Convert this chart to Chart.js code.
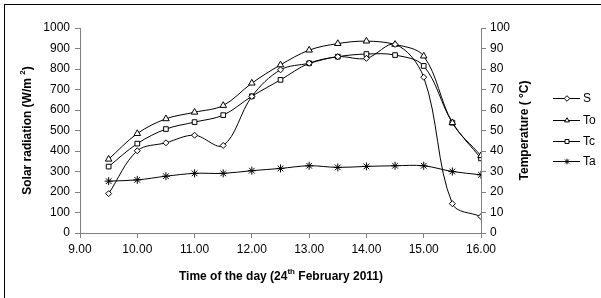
<!DOCTYPE html>
<html>
<head>
<meta charset="utf-8">
<script src="https://cdn.jsdelivr.net/npm/chart.js@4"></script>
<style>
  html, body { margin: 0; padding: 0; background: #fff; overflow: hidden; }
  #wrap { width: 601px; height: 298px; }
</style>
</head>
<body>
<div id="wrap"><canvas id="chart" width="601" height="298"></canvas></div>
<script>
// ── Data ──────────────────────────────────────────────────────────────────────
const times = [9.5, 10, 10.5, 11, 11.5, 12, 12.5, 13, 13.5, 14, 14.5, 15, 15.5, 16];
const solarS = [192, 401, 440, 477, 427, 666, 796, 828, 860, 852, 920, 760, 143, 80];
const tempTo = [36, 48.5, 55.7, 58.9, 62.2, 73.1, 82, 89.2, 92.4, 93.6, 92, 86.3, 53.8, 37.7];
const tempTc = [32.4, 43.6, 50.7, 54.1, 57.5, 66.7, 74.7, 82.8, 86, 87.3, 86.8, 81.5, 53.8, 36.4];
const tempTa = [25.3, 25.9, 27.7, 29.1, 29.1, 30.4, 31.5, 32.8, 32, 32.5, 32.8, 32.8, 30, 28.4];
const xTicks = [9, 10, 11, 12, 13, 14, 15, 16];

const FONT = 'Liberation Sans, Arial, sans-serif';
const axisGrey = '#808080';

const pts = (vals) => vals.map((v, i) => ({ x: times[i], y: v }));

function series(label, vals, axis, style, radius) {
    return {
        label,
        data: pts(vals),
        yAxisID: axis,
        borderColor: '#000',
        borderWidth: 1,
        backgroundColor: '#fff',
        pointStyle: style,
        pointRadius: radius,
        pointBorderColor: '#000',
        pointBackgroundColor: '#fff',
        pointBorderWidth: 1,
        tension: 0.35,
        fill: false,
    };
}

// ── Titles, frame and legend drawn by hand ────────────────────────────────────
function drawParts(ctx, parts, x, y) {
    // parts drawn left to right, centred on x; superscripts raised
    let total = 0;
    parts.forEach((p) => {
        ctx.font = `bold ${p.sup ? 8 : 12}px ${FONT}`;
        total += ctx.measureText(p.t).width;
    });
    let cx = x - total / 2;
    parts.forEach((p) => {
        ctx.font = `bold ${p.sup ? 8 : 12}px ${FONT}`;
        ctx.fillText(p.t, cx, p.sup ? y - 5 : y);
        cx += ctx.measureText(p.t).width;
    });
}

const decorPlugin = {
    id: 'decor',
    beforeDraw(chart) {
        const { ctx } = chart;
        ctx.save();
        ctx.fillStyle = '#fff';
        ctx.fillRect(0, 0, chart.width, chart.height);
        ctx.strokeStyle = '#000';
        ctx.lineWidth = 1;
        ctx.strokeRect(4.5, 4.5, 700, 400);
        ctx.restore();
    },
    afterDraw(chart) {
        const { ctx, chartArea } = chart;
        const midY = (chartArea.top + chartArea.bottom) / 2;

        ctx.save();
        ctx.fillStyle = '#000';
        ctx.textBaseline = 'middle';
        ctx.textAlign = 'left';

        ctx.save();
        ctx.translate(28, midY);
        ctx.rotate(-Math.PI / 2);
        drawParts(ctx, [{ t: 'Solar radiation (W/m ' }, { t: '2', sup: true }, { t: ')' }], 0, 0);
        ctx.restore();

        ctx.save();
        ctx.translate(525, midY);
        ctx.rotate(-Math.PI / 2);
        drawParts(ctx, [{ t: 'Temperature ( °C)' }], 0, 0);
        ctx.restore();

        drawParts(ctx, [{ t: 'Time of the day (24' }, { t: 'th', sup: true }, { t: ' February 2011)' }], 281, 277);
        ctx.restore();

        // legend: line + marker + label
        const rows = [98, 120, 141, 161];
        chart.data.datasets.forEach((ds, i) => {
            const y = rows[i] + 0.5;
            ctx.save();
            ctx.strokeStyle = '#000';
            ctx.lineWidth = 1;
            ctx.beginPath();
            ctx.moveTo(553, y);
            ctx.lineTo(580, y);
            ctx.stroke();
            ctx.fillStyle = '#fff';
            Chart.helpers.drawPoint(ctx, {
                pointStyle: ds.pointStyle,
                radius: 2.8,
                borderWidth: 1,
                rotation: 0,
            }, 567, y);
            ctx.fillStyle = '#000';
            ctx.font = `12px ${FONT}`;
            ctx.textBaseline = 'middle';
            ctx.textAlign = 'left';
            ctx.fillText(ds.label, 583, y + 0.5);
            ctx.restore();
        });
    },
};

const tickFont = { family: FONT, size: 12 };

new Chart(document.getElementById('chart'), {
    type: 'line',
    data: {
        datasets: [
            series('S', solarS, 'y', 'rectRot', 3),
            series('To', tempTo, 'y1', 'triangle', 3.8),
            series('Tc', tempTc, 'y1', 'rect', 3.3),
            series('Ta', tempTa, 'y1', 'star', 4),
        ],
    },
    options: {
        responsive: false,
        animation: false,
        layout: { padding: { left: 0, right: 60, top: 28, bottom: 0 } },
        plugins: { legend: { display: false }, tooltip: { enabled: false } },
        scales: {
            x: {
                type: 'linear',
                min: 9,
                max: 16,
                afterBuildTicks(scale) { scale.ticks = xTicks.map((v) => ({ value: v })); },
                afterFit(scale) { scale.height = 65; },
                ticks: { font: tickFont, color: '#000', maxRotation: 0, padding: 4, callback: (v) => v.toFixed(2) },
                grid: { drawOnChartArea: false, drawTicks: true, tickLength: 5, color: axisGrey },
                border: { color: axisGrey },
            },
            y: {
                position: 'left',
                min: 0,
                max: 1000,
                ticks: { stepSize: 100, font: tickFont, color: '#000', padding: 5, callback: (v) => String(v) },
                afterFit(scale) { scale.width = 80; },
                grid: { drawOnChartArea: false, drawTicks: true, tickLength: 5, color: axisGrey },
                border: { color: axisGrey },
            },
            y1: {
                position: 'right',
                min: 0,
                max: 100,
                ticks: { stepSize: 10, font: tickFont, color: '#000', padding: 4, callback: (v) => String(v) },
                afterFit(scale) { scale.width = 60; },
                grid: { drawOnChartArea: false, drawTicks: true, tickLength: 5, color: axisGrey },
                border: { color: axisGrey },
            },
        },
    },
    plugins: [decorPlugin],
});
</script>
</body>
</html>
